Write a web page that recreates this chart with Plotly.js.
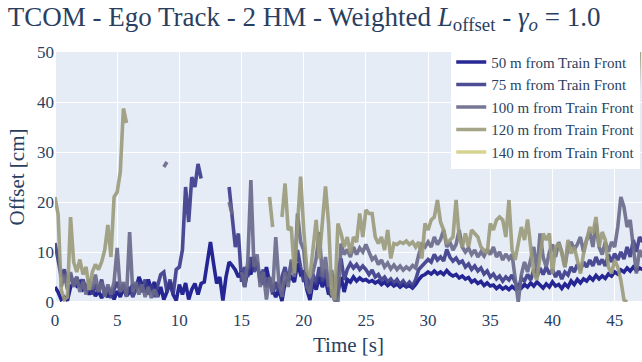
<!DOCTYPE html>
<html>
<head>
<meta charset="utf-8">
<script src="https://cdn.plot.ly/plotly-3.0.1.min.js"></script>
<style>html,body{margin:0;padding:0;background:#fff}#chart{width:642px;height:362px}</style>
</head>
<body>
<div id="chart"></div>
<script>
// Time samples [s]
const time = [
 0,0.25,0.5,0.75,1,1.25,1.5,1.75,2,2.25,2.5,2.75,3,3.25,3.5,3.75,4,4.25,4.5,4.75,
 5,5.25,5.5,5.75,6,6.25,6.5,6.75,7,7.25,7.5,7.75,8,8.25,8.5,8.75,9,9.25,9.5,9.75,
 10,10.25,10.5,10.75,11,11.25,11.5,11.75,12,12.25,12.5,12.75,13,13.25,13.5,13.75,14,14.25,14.5,14.75,
 15,15.25,15.5,15.75,16,16.25,16.5,16.75,17,17.25,17.5,17.75,18,18.25,18.5,18.75,19,19.25,19.5,19.75,
 20,20.25,20.5,20.75,21,21.25,21.5,21.75,22,22.25,22.5,22.75,23,23.25,23.5,23.75,24,24.25,24.5,24.75,
 25,25.25,25.5,25.75,26,26.25,26.5,26.75,27,27.25,27.5,27.75,28,28.25,28.5,28.75,29,29.25,29.5,29.75,
 30,30.25,30.5,30.75,31,31.25,31.5,31.75,32,32.25,32.5,32.75,33,33.25,33.5,33.75,34,34.25,34.5,34.75,
 35,35.25,35.5,35.75,36,36.25,36.5,36.75,37,37.25,37.5,37.75,38,38.25,38.5,38.75,39,39.25,39.5,39.75,
 40,40.25,40.5,40.75,41,41.25,41.5,41.75,42,42.25,42.5,42.75,43,43.25,43.5,43.75,44,44.25,44.5,44.75,
 45,45.25,45.5,45.75,46,46.25,46.5,46.75,47,47.25
];

// Offset [cm] per distance from train front
const off50 = [
 3,2,0.5,1,0.3,3,3.8,3.2,4,2.5,3,1.5,2.8,1.2,2.2,0.8,2,1,2.5,0.5,
 2.2,1,2.8,1.2,2,3.5,2.5,5,3.5,2,4.5,2.5,4,1,3,0.5,2,4,1.5,0.3,
 3.5,1.5,3.8,0.5,2.5,3.7,1.5,3.7,4,8.4,12,7.7,3.7,5,0.3,5,8,7.3,6.4,5,
 6,3,6.4,5.5,9,7,5,3.5,7,4,2.5,1,2.5,0.2,4,4.5,5,4,7.7,5.5,
 6,2.5,0.4,4,2.5,5,3,4.5,1.5,2.4,0.2,2,5,2,4.5,4,5,4.2,4.8,4.3,
 4.5,4,4.3,3.8,4.2,3.5,4,3.3,3.8,3.2,3.6,3,3.5,3,3.3,2.8,3.5,4.5,5.2,5.5,
 6,5.6,6.2,5.6,6,5.5,6.3,5.6,5.2,5.5,4.8,5.2,4.6,4.9,4,4.4,3.7,4.1,3.3,3.8,
 3.2,3.4,2.7,3.2,2.6,3,2.5,3.1,2.6,3.3,2.8,3.5,3,3.8,3.2,4,3.5,2.8,3.6,3,
 4,3.2,3.5,2.7,3.6,3,4.2,3.5,4.5,3.8,4.6,4.2,5,4.4,5.3,4.6,5.2,4.7,5.6,5.2,
 6,5.6,6.4,6,6.8,6.2,7,6.3,6.8,6.5
];
const off75 = [
 11.8,8,5,6.5,4,5.5,3.5,5,3,4.5,2.5,4,1.5,3.5,2,4.5,1.5,3,0.8,2.5,
 4,2,3.5,1.5,3,1,2.5,4,2,4.5,1.5,3.5,1,3,5.5,6,2,4.5,1.5,6.5,
 7,10.5,23,16,25,23,27.6,24.7,null,null,null,null,null,null,null,null,23,16,11,13.7,
 4,7,5,9,6,8,4,6.5,3,5,1.5,4,2,5,7,4,8,6,10.4,7,
 4,6,2,5.5,3.5,7,4,6.5,2.5,1,3,6,8.7,4.4,6.5,7.7,6.8,7.5,6.5,7.2,
 6.5,5.5,6.4,5,5.5,4.4,5,4,4.6,3.8,4.5,3.5,4.2,3.3,4,3.2,4.5,6.5,7.2,7.7,
 8.5,8,9.5,8.4,9,8.2,10.5,9,8.2,8.8,7.8,8.2,7,7.6,6.5,7.2,6.2,6.8,5.6,6.2,
 5,5.6,4.6,5.2,4.2,5,4.4,5.4,4,2.5,4.8,4.2,5.5,4.4,6.5,5,6.8,5.5,7,5.6,
 6.5,5,6.2,4.6,6,5.4,7,6,7.5,6.4,8,7,8.4,7.2,9,7.5,8.5,7.2,9.5,8,
 9.7,8.4,10,8.6,11,9,12.4,10,13,12
];
const off100 = [
 null,null,3,5.5,2.5,6,3,5,2,4,1.5,4.5,2.5,5.5,2,4,1,3.5,1.5,4,
 10.8,2,4,1,14,2,4,1.5,3.5,1,3,0.8,2.5,1,null,27,28,null,null,null,
 null,null,null,null,null,null,null,null,null,null,null,null,null,null,null,null,20,17.5,null,null,
 6,3,8,24.4,7,9.5,3,6,0.5,5,2,13,4,1,6,3,8.5,5,17.7,12,
 10.4,3,1.7,6,8.7,14,5,9,3,6.4,0.5,0,11.7,9.5,10.5,9,11,9.5,10.8,10,
 11.5,10,8.5,9,7.5,8.4,7,7.8,6.6,7.4,6.5,7.2,6.4,7,6.5,7.3,6.8,9.5,11.5,11,
 12,11,13,11.5,12.5,14.4,11,12,10.4,11.5,14.4,11,10,10.8,9.5,10.4,9,10,9.2,10.5,
 9.5,11,9,10,8.4,9.6,8.6,9.5,5,0,5.5,8,6,8.5,11,6,13.7,9,7,10,
 11.5,9,12,10,7,11,12,10.5,11.5,13,10,12.5,14,11,15.7,11,9.5,12,10,12,
 11,15,21,19,15,16.4,10.4,5.7,10.4,9
];
const off120 = [
 21,17.5,2.4,0.5,1,17,8,6,8.5,5.5,7,2.4,6,7.5,6.5,8,10.4,15.4,9,21,
 22,26,38.7,35.8,null,null,null,null,null,null,null,null,null,null,null,null,null,null,null,null,
 null,null,null,null,null,null,null,null,null,null,null,null,null,null,null,null,null,null,null,null,
 null,null,null,null,null,null,null,null,null,21,15,null,null,17,23.7,14.4,15,5.7,15.7,25.1,
 14.4,6.4,5,11,16.4,8.7,15,23.1,15.7,1.7,0.4,15.7,13.7,11,13,9.7,13,12,17.7,13,
 18.4,17.7,17.7,13,11.7,13,10.4,14.4,8.7,11.7,11.5,12,11.7,12.2,11.5,12,11,12,8.7,15.7,
 14.4,16.4,17,20.4,16,14.4,11.7,12.4,13,20.4,13,11,13.7,11,14.4,13.7,13,11,10.4,9.7,
 15.7,14.4,16.4,17,16.4,13,20.4,10.4,8.4,11.7,15,12.4,16.5,11,5.7,4.4,9.7,13.7,12.4,13.7,
 5.7,11,11.7,9.7,7,12.4,9.7,11,8.4,5.7,9.7,12.4,15,13.7,17,11,14,12.4,7,5.7,
 8.4,7,4.4,0.4,0,null,null,30,52,null
];
const off140 = [null];

const seriesNames = ["50 m from Train Front","75 m from Train Front","100 m from Train Front","120 m from Train Front","140 m from Train Front"];
const seriesData = [off50, off75, off100, off120, off140];
const seriesColors = ["#10108a","#3a3a8a","#68688a","#9a9a7a","#d2ce86"];

const traces = seriesData.map((ys, i) => ({
  type: "scatter",
  mode: "lines",
  x: ys.length > 1 ? time : [time[0]],
  y: ys,
  name: seriesNames[i],
  line: {color: seriesColors[i], width: 3.6},
  opacity: 0.9,
  connectgaps: false,
  showlegend: true
}));

const serif = "Liberation Serif";
const layout = {
  width: 642, height: 362,
  margin: {l: 55, r: 0, t: 52, b: 60},
  paper_bgcolor: "#ffffff",
  plot_bgcolor: "#E5ECF6",
  font: {family: serif, color: "#2a3f5f"},
  title: {
    text: "TCOM - Ego Track - 2 HM - Weighted <i>L</i><sub>offset</sub> - <i>γ<sub>o</sub></i> = 1.0",
    x: 0.012, xanchor: "left", y: 0.955, yanchor: "middle",
    font: {family: serif, size: 27, color: "#2a3f5f"}
  },
  xaxis: {
    range: [0, 47.2], dtick: 5, tick0: 0,
    gridcolor: "#ffffff", zerolinecolor: "#ffffff", zerolinewidth: 2,
    tickfont: {family: serif, size: 17},
    ticklabelstandoff: 6,
    title: {text: "Time [s]", font: {family: serif, size: 21}, standoff: 8}
  },
  yaxis: {
    range: [0, 50], dtick: 10, tick0: 0,
    gridcolor: "#ffffff", zerolinecolor: "#ffffff", zerolinewidth: 2,
    tickfont: {family: serif, size: 17},
    title: {text: "Offset [cm]", font: {family: serif, size: 21}, standoff: 6}
  },
  legend: {
    x: 0.997, xanchor: "right", y: 1.025, yanchor: "top",
    bgcolor: "#ffffff", borderwidth: 0,
    font: {family: serif, size: 15, color: "#2a3f5f"},
    tracegroupgap: 0
  },
  showlegend: true
};

Plotly.newPlot("chart", traces, layout, {staticPlot: true, displayModeBar: false});
</script>
</body>
</html>
